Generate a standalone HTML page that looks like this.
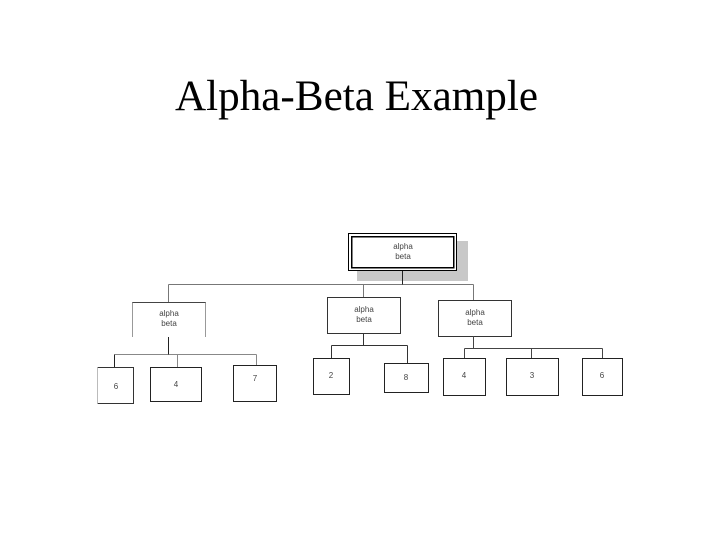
<!DOCTYPE html>
<html><head><meta charset="utf-8"><style>html,body{margin:0;padding:0;background:#fff;width:720px;height:540px;overflow:hidden}</style></head>
<body>
<svg width="720" height="540" viewBox="0 0 720 540" xmlns="http://www.w3.org/2000/svg">
<text x="175" y="110" font-family="Liberation Serif, serif" font-size="43" textLength="363" lengthAdjust="spacingAndGlyphs" fill="#000">Alpha-Beta Example</text>
<g fill="none" stroke-width="1" shape-rendering="crispEdges">
<!-- root shadow -->
<rect x="357" y="241" width="111" height="40" fill="#c8c8c8" stroke="none"/>
<rect x="348.5" y="233.5" width="108" height="37" fill="#fff" stroke="#000"/>
<rect x="351.5" y="236.5" width="102" height="31" stroke="#000" stroke-width="1.5"/>
<!-- level 1 connectors -->
<path d="M402.5 271V284.5M168.5 284.5H473.5M168.5 284.5V302M363.5 284.5V297M473.5 284.5V300" stroke="#777"/>
<path d="M402.5 271V284.5" stroke="#222"/>
<!-- left child (partial borders) -->
<path d="M132.5 337V302.5H205.5V337" stroke="#999"/>
<path d="M132.5 302.5H205.5" stroke="#444"/>
<!-- middle child -->
<rect x="327.5" y="297.5" width="73" height="36" fill="#fff" stroke="#333"/>
<!-- right child -->
<rect x="438.5" y="300.5" width="73" height="36" fill="#fff" stroke="#333"/>
<!-- left leaves connectors -->
<path d="M168.5 337V354.5M114.5 354.5H256.5M114.5 354.5V367M177.5 354.5V367M256.5 354.5V365" stroke="#888"/>
<path d="M168.5 337V354.5M114.5 354.5V367" stroke="#222"/>
<path d="M97.5 367.5H133.5V403.5H97.5" stroke="#333"/>
<path d="M97.5 367.5V403.5" stroke="#bbb"/>
<rect x="150.5" y="367.5" width="51" height="34" fill="#fff" stroke="#222"/>
<rect x="233.5" y="365.5" width="43" height="36" fill="#fff" stroke="#222"/>
<!-- middle leaves -->
<path d="M363.5 333V345.5M331.5 345.5H407.5M331.5 345.5V358M407.5 345.5V363" stroke="#333"/>
<rect x="313.5" y="358.5" width="36" height="36" fill="#fff" stroke="#222"/>
<rect x="384.5" y="363.5" width="44" height="29" fill="#fff" stroke="#222"/>
<!-- right leaves -->
<path d="M473.5 336V348.5M464.5 348.5H602.5M464.5 348.5V358M531.5 348.5V358M602.5 348.5V358" stroke="#444"/>
<rect x="443.5" y="358.5" width="42" height="37" fill="#fff" stroke="#222"/>
<rect x="506.5" y="358.5" width="52" height="37" fill="#fff" stroke="#222"/>
<rect x="582.5" y="358.5" width="40" height="37" fill="#fff" stroke="#222"/>
</g>
<g font-family="Liberation Sans, sans-serif" font-size="8" fill="#444" text-anchor="middle">
<text x="403" y="249">alpha</text><text x="403" y="259">beta</text>
<text x="169" y="316">alpha</text><text x="169" y="326">beta</text>
<text x="364" y="312">alpha</text><text x="364" y="322">beta</text>
<text x="475" y="315">alpha</text><text x="475" y="325">beta</text>
<text x="116" y="389">6</text>
<text x="176" y="387">4</text>
<text x="255" y="381">7</text>
<text x="331" y="378">2</text>
<text x="406" y="380">8</text>
<text x="464" y="378">4</text>
<text x="532" y="378">3</text>
<text x="602" y="378">6</text>
</g>
</svg>
</body></html>
